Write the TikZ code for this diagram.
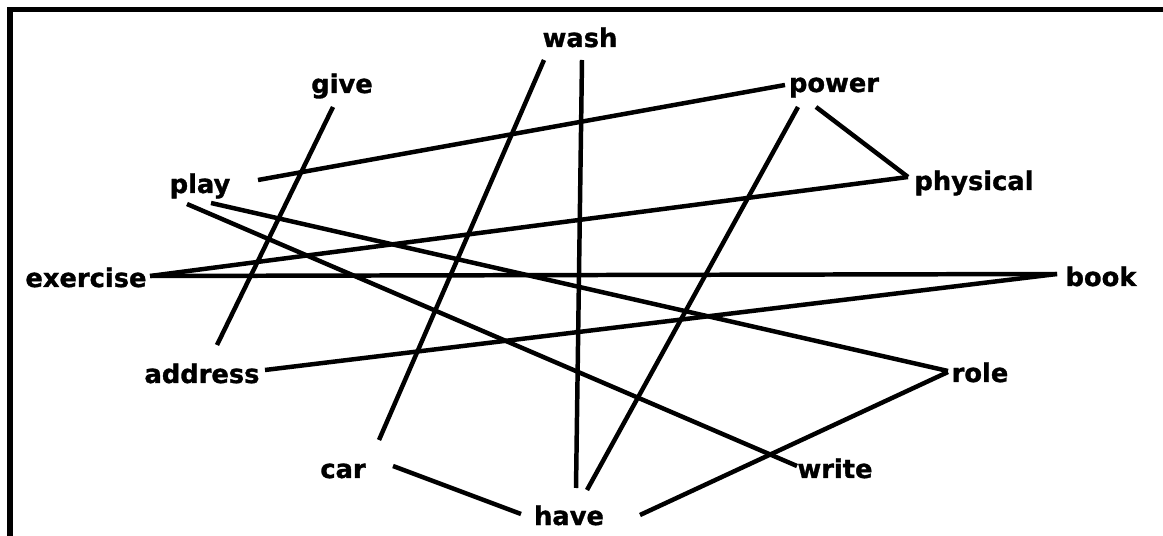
\documentclass[tikz,border=0pt]{standalone}
\usepackage{fontspec}
\setsansfont{DejaVu Sans}[BoldFeatures={FakeBold=1.2}]
\usetikzlibrary{calc}
\definecolor{darkline}{HTML}{000000}
\tikzset{
  word/.style={font=\sffamily\bfseries\fontsize{18.3}{20}\selectfont,
               anchor=base, inner sep=0pt, text=darkline},
  link/.style={line width=1.12mm, draw=darkline},
  frameline/.style={line width=1.25mm, draw=darkline},
}

\begin{document}
\begin{tikzpicture}[x=0.025cm, y=-0.025cm]
\useasboundingbox (0,0) rectangle (1163,536);

% Open frame (top and left edges only)
\coordinate (fbl) at (10,536);
\coordinate (ftl) at (10,9.5);
\coordinate (ftr) at (1163,9.5);
\draw[frameline] (fbl) -- (ftl) -- (ftr);

% Words
\node[word] (wash)     at (580,47)  {wash};
\node[word] (give)     at (342,93)  {give};
\node[word] (power)    at (834,92)  {power};
\node[word] (play)     at (200,193) {play};
\node[word] (physical) at (974,190) {physical};
\node[word] (exercise) at (86,287)  {exercise};
\node[word] (book)     at (1101,286) {book};
\node[word] (address)  at (202,383) {address};
\node[word] (role)     at (980,382) {role};
\node[word] (car)      at (343,478) {car};
\node[word] (write)    at (835,478) {write};
\node[word] (have)     at (569,525) {have};

% Links
\draw[link] ($(give.base)+(-9,14)$)      -- ($(address.base)+(15,-38)$);
\draw[link] ($(play.base)+(58,-13)$)     -- ($(power.base)+(-49,-7)$);
\draw[link] ($(wash.base)+(-36,13)$)     -- ($(car.base)+(36,-38)$);
\draw[link] ($(wash.base)+(2,13)$)       -- ($(have.base)+(7,-37)$);
\draw[link] ($(power.base)+(-36,15)$)    -- ($(have.base)+(18,-35)$);
\draw[link] ($(power.base)+(-18,15)$)    -- ($(physical.base)+(-66,-13)$);
\draw[link] ($(exercise.base)+(64,-11)$) -- ($(physical.base)+(-66,-13)$);
\draw[link] ($(exercise.base)+(64,-11)$) -- ($(book.base)+(-44,-12)$);
\draw[link] ($(address.base)+(63,-13)$)  -- ($(book.base)+(-44,-12)$);
\draw[link] ($(play.base)+(-13,11)$)     -- ($(write.base)+(-38,-12)$);
\draw[link] ($(play.base)+(11,10)$)      -- ($(role.base)+(-32,-11)$);
\draw[link] ($(role.base)+(-32,-10)$)    -- ($(have.base)+(71,-10)$);
\draw[link] ($(car.base)+(50,-12)$)      -- ($(have.base)+(-48,-11)$);

\end{tikzpicture}
\end{document}
